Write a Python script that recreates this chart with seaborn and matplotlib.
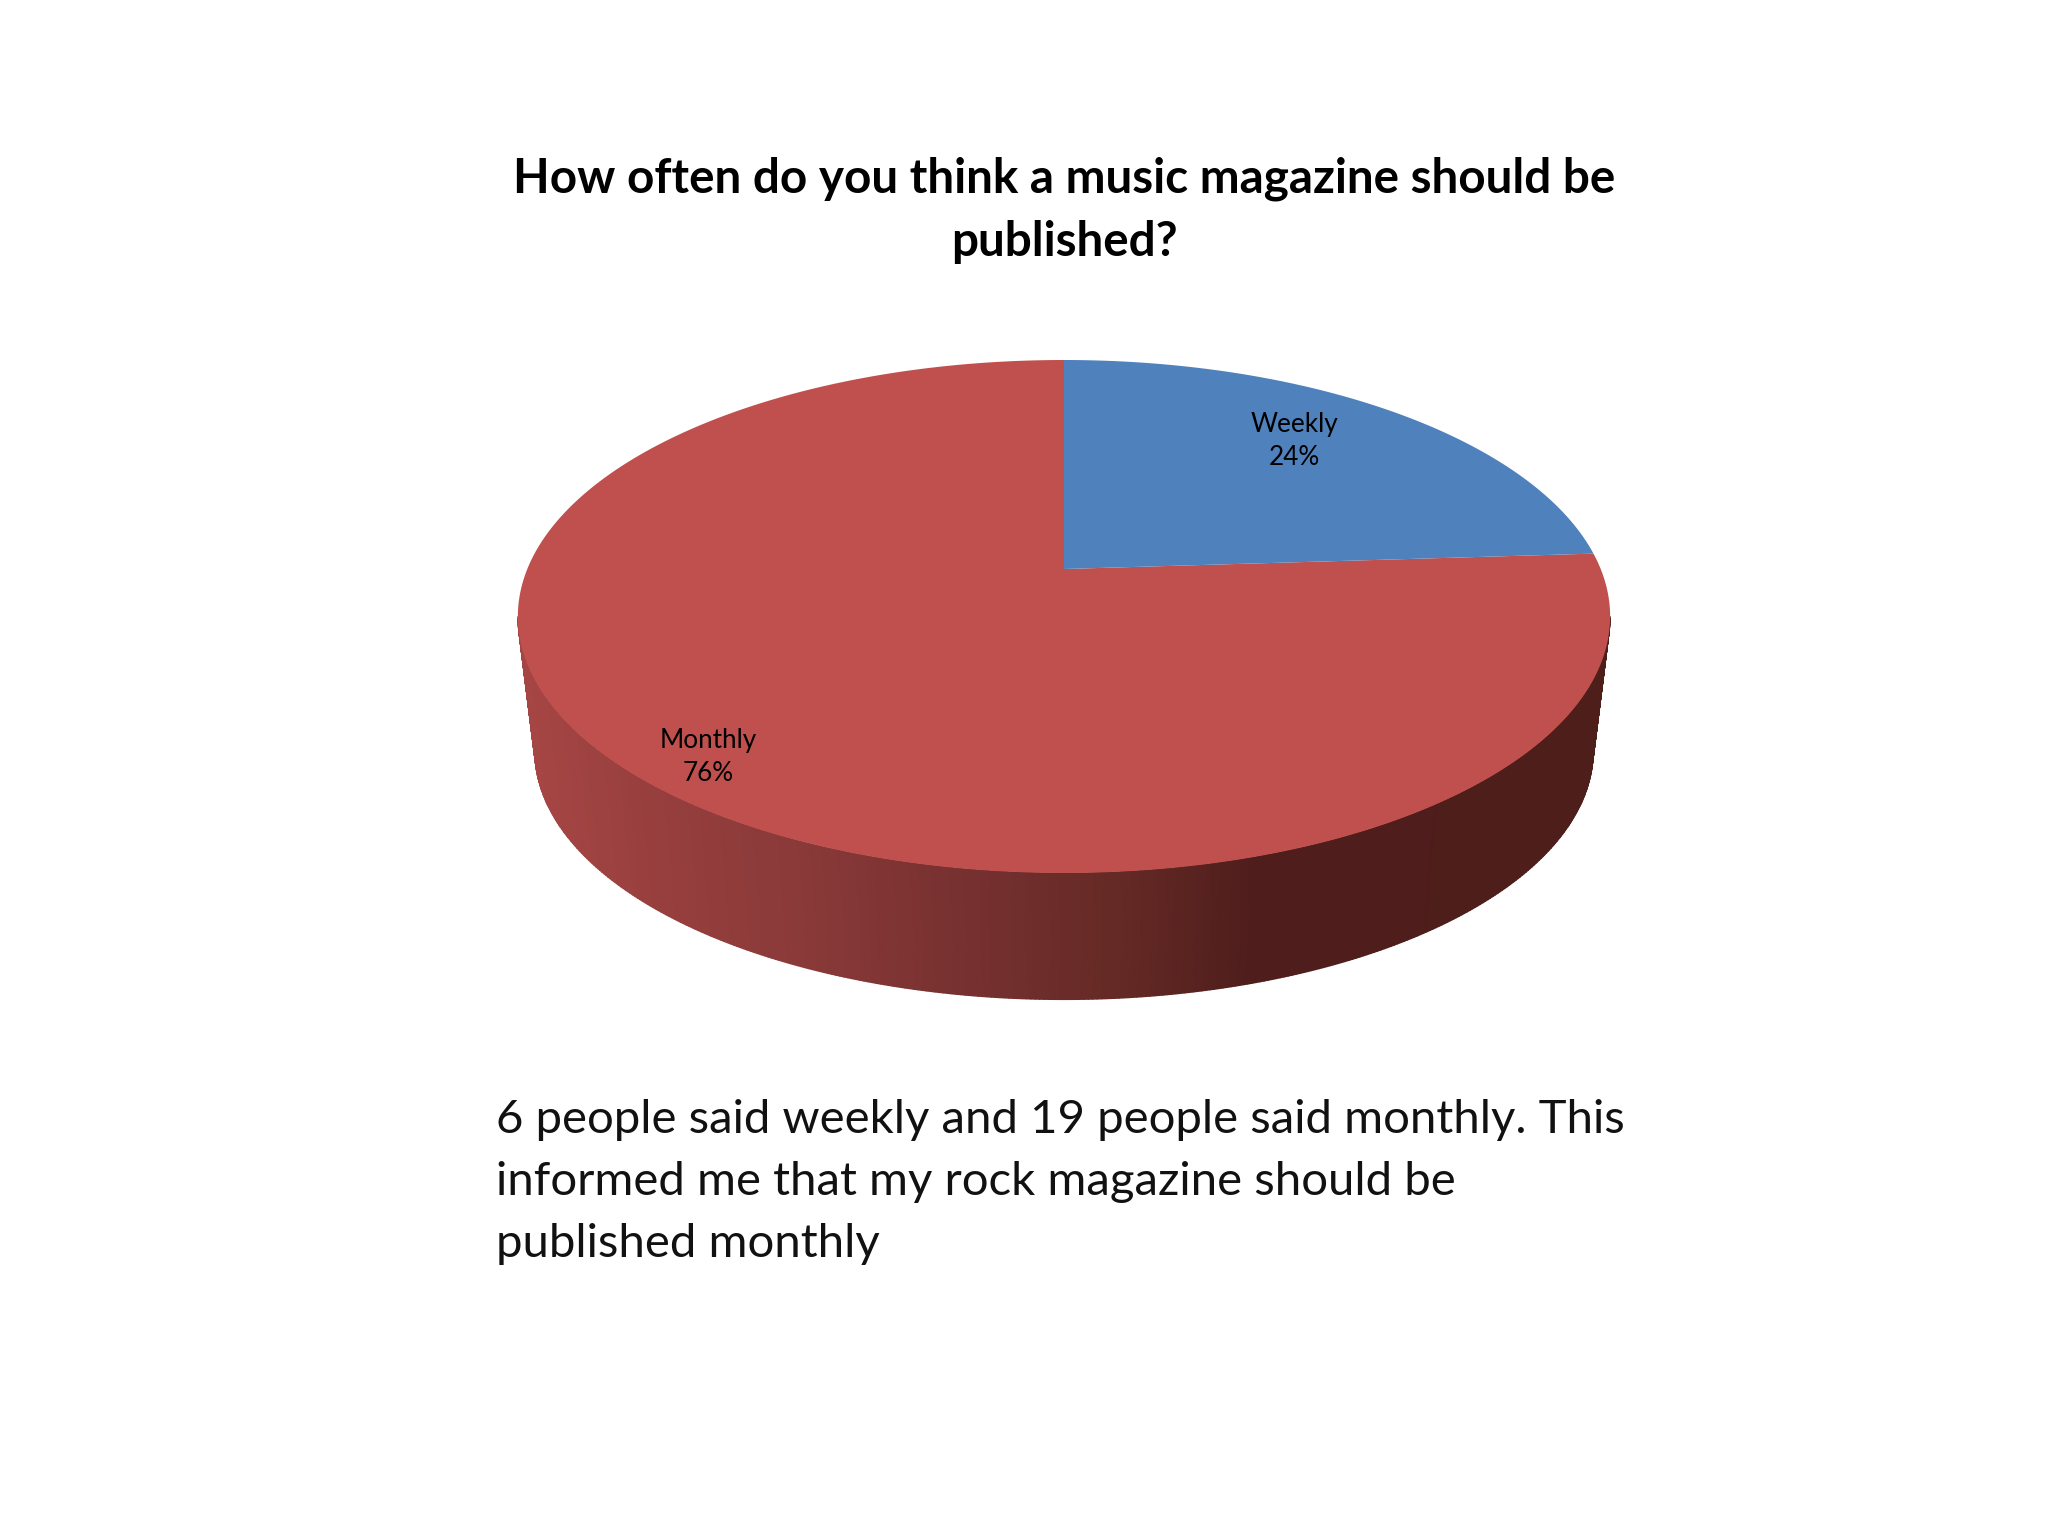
import numpy as np
import seaborn as sns
import matplotlib.pyplot as plt
from matplotlib.colors import LinearSegmentedColormap

categories = ['Weekly', 'Monthly']
counts = [6, 19]
slice_colors = ['#4F81BD', '#C0504D']

title_lines = ['How often do you think a music magazine should be', 'published?']
note_lines = [
    '6 people said weekly and 19 people said monthly. This',
    'informed me that my rock magazine should be',
    'published monthly',
]

# side wall shading, left to right
wall_stops = [0.0, 0.12, 0.25, 0.42, 0.55, 0.68, 1.0]
wall_colors = ['#A64644', '#973F3E', '#8A3A39', '#75302F', '#652A25', '#4E1D1C', '#4E1E1B']

# pie geometry in image pixels
CX = 1064
APEX_Y = 569
BASE_APEX_Y = 705
TILT = 0.1852
RX = 536.7
RY = 247.7
BASE_SCALE = 0.969


def project(theta, apex_y=APEX_Y, scale=1.0):
    w = 1 + TILT * np.sin(theta)
    x = CX + scale * RX * np.cos(theta) / w
    y = apex_y - scale * RY * np.sin(theta) / w
    return x, y


sns.set_theme(style='white')
plt.rcParams['font.family'] = ['Lato', 'DejaVu Sans']

fig = plt.figure(figsize=(20.48, 15.36), dpi=100)
ax = fig.add_axes([0, 0, 1, 1])
ax.set_xlim(0, 2048)
ax.set_ylim(1536, 0)
ax.axis('off')

# side wall, between the front arcs of the top face and the base
edge = np.arcsin(TILT)
front = np.linspace(np.pi + edge, 2 * np.pi - edge, 400)
top_x, top_y = project(front)
base_x, base_y = project(front, BASE_APEX_Y, BASE_SCALE)
wall_cmap = LinearSegmentedColormap.from_list('wall', list(zip(wall_stops, wall_colors)))
shade = np.vstack([(top_x - top_x.min()) / np.ptp(top_x)] * 2)
ax.pcolormesh(np.vstack([top_x, base_x]), np.vstack([top_y, base_y]), shade,
              cmap=wall_cmap, vmin=0, vmax=1, shading='gouraud')

# top face, clockwise from twelve o'clock
shares = np.array(counts) / sum(counts)
ends = np.cumsum(shares)
starts = ends - shares
for i in [1, 0]:
    angles = np.pi / 2 - 2 * np.pi * np.linspace(starts[i], ends[i], 300)
    xs, ys = project(angles)
    ax.fill(np.r_[CX, xs], np.r_[APEX_Y, ys], color=slice_colors[i], lw=0)

label_pos = [(1294, 441), (708, 757)]
for cat, share, (lx, ly) in zip(categories, shares, label_pos):
    ax.text(lx, ly, f'{cat}\n{share:.0%}', ha='center', va='center',
            fontsize=18.8, color='black', linespacing=1.4)

for line, y in zip(title_lines, [179, 242]):
    ax.text(1064, y, line, ha='center', va='center', fontsize=34.3, fontweight='bold', color='black')

for line, y in zip(note_lines, [1120, 1182, 1244]):
    ax.text(496, y, line, ha='left', va='center', fontsize=34, color='#111111')

fig.savefig('out.png', dpi=100, facecolor='white')
